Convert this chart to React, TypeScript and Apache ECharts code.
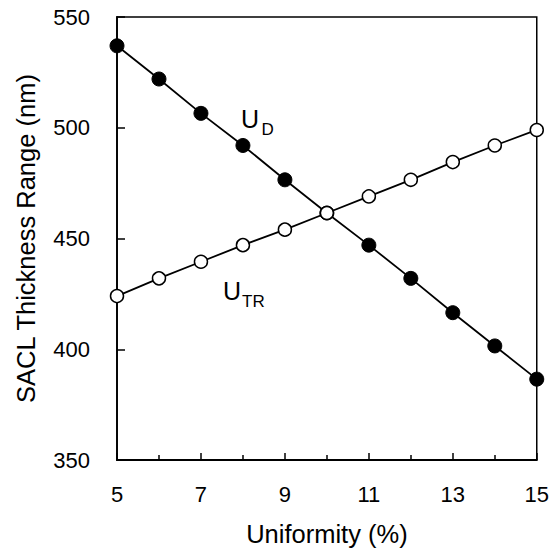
import React, { useEffect, useRef } from "react";
import * as echarts from "echarts";

const uniformity = [5, 6, 7, 8, 9, 10, 11, 12, 13, 14, 15];
const udValues = [537, 522, 506.5, 492, 476.5, 461.5, 447, 432, 416.5, 401.5, 386.5];
const utrValues = [424, 432, 439.5, 447, 454, 461.5, 469, 476.5, 484.5, 492, 499];

const FONT = "'Liberation Sans', Arial, Helvetica, sans-serif";

export default function App() {
  const ref = useRef<HTMLDivElement>(null);

  useEffect(() => {
    document.body.style.margin = "0";
    if (!ref.current) return;
    const chart = echarts.init(ref.current, undefined, { renderer: "svg" });
    const udData = uniformity.map((x, i) => [x, udValues[i]]);
    const utrData = uniformity.map((x, i) => [x, utrValues[i]]);

    chart.setOption({
      animation: false,
      backgroundColor: "#ffffff",
      textStyle: { fontFamily: FONT, color: "#000" },
      grid: {
        left: 117,
        right: 13,
        top: 17,
        bottom: 87,
        show: true,
        borderColor: "#000",
        borderWidth: 1.5,
        backgroundColor: "transparent",
      },
      xAxis: {
        type: "value",
        min: 5,
        max: 15,
        interval: 2,
        name: "Uniformity (%)",
        nameLocation: "middle",
        nameGap: 61,
        nameTextStyle: { fontSize: 25.5, color: "#000", fontFamily: FONT },
        axisLine: { show: true, onZero: false, lineStyle: { color: "#000", width: 1.8 } },
        axisTick: { show: true, inside: true, length: 7, lineStyle: { color: "#000", width: 1.5 } },
        minorTick: { show: true, splitNumber: 2, length: 5, lineStyle: { color: "#000", width: 1.5 } },
        axisLabel: { fontSize: 22, color: "#000", margin: 23, fontFamily: FONT },
        splitLine: { show: false },
        minorSplitLine: { show: false },
      },
      yAxis: {
        type: "value",
        min: 350,
        max: 550,
        interval: 50,
        name: "SACL Thickness Range (nm)",
        nameLocation: "middle",
        nameRotate: 90,
        nameGap: 78,
        nameTextStyle: { fontSize: 25.5, color: "#000", fontFamily: FONT },
        axisLine: { show: true, onZero: false, lineStyle: { color: "#000", width: 1.8 } },
        axisTick: { show: true, inside: true, length: 8, lineStyle: { color: "#000", width: 1.5 } },
        axisLabel: { fontSize: 22, color: "#000", margin: 27, fontFamily: FONT },
        splitLine: { show: false },
      },
      series: [
        {
          name: "UD",
          type: "line",
          data: udData,
          symbol: "circle",
          symbolSize: 14,
          lineStyle: { color: "#000", width: 1.8 },
          itemStyle: { color: "#000", borderColor: "#000", borderWidth: 1 },
          clip: false,
          z: 2,
        },
        {
          name: "UTR",
          type: "line",
          data: utrData,
          symbol: "circle",
          symbolSize: 13,
          showAllSymbol: true,
          lineStyle: { color: "#000", width: 1.8 },
          itemStyle: { color: "#fff", borderColor: "#000", borderWidth: 1.5 },
          clip: false,
          z: 3,
        },
      ],
      graphic: [
        {
          type: "text",
          left: 241,
          top: 106.5,
          style: { text: "U", fontSize: 25, fill: "#000", fontFamily: FONT },
        },
        {
          type: "text",
          left: 261.5,
          top: 120.5,
          style: { text: "D", fontSize: 17, fill: "#000", fontFamily: FONT },
        },
        {
          type: "text",
          left: 223,
          top: 278.5,
          style: { text: "U", fontSize: 25, fill: "#000", fontFamily: FONT },
        },
        {
          type: "text",
          left: 242,
          top: 293,
          style: { text: "TR", fontSize: 17, fill: "#000", fontFamily: FONT },
        },
      ],
    });
    return () => chart.dispose();
  }, []);

  return <div ref={ref} style={{ width: 552, height: 552 }} />;
}
